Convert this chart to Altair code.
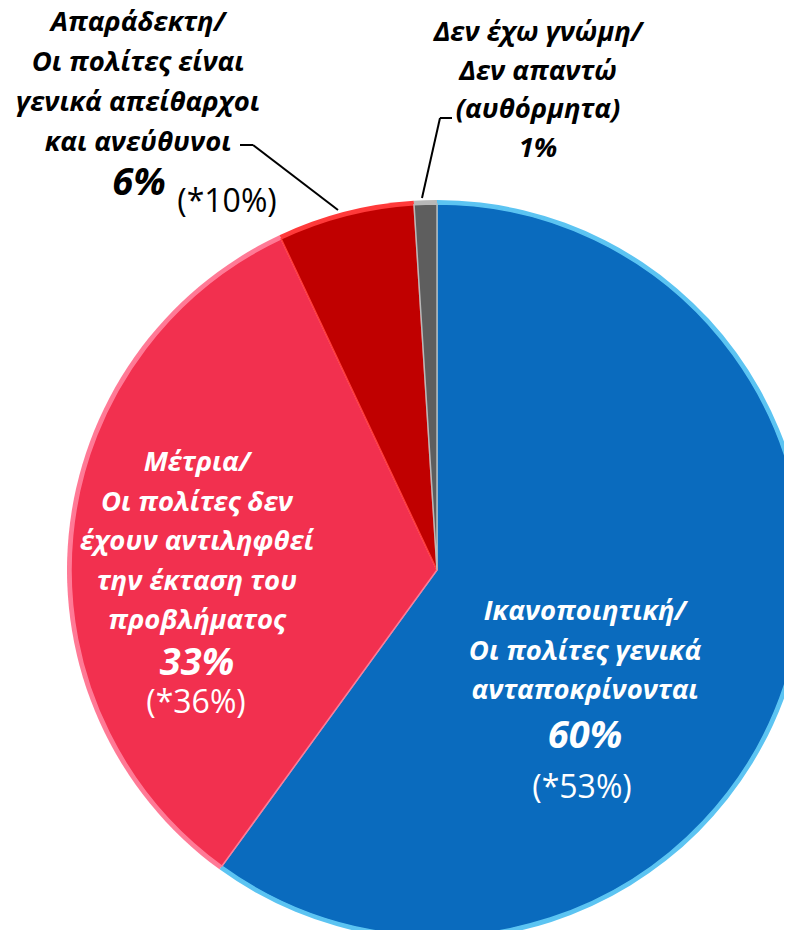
import altair as alt
import pandas as pd

# ---- data ----
categories = ["Ικανοποιητική", "Μέτρια", "Απαράδεκτη", "Δεν έχω γνώμη"]
values = [60, 33, 6, 1]
label_lines = [
    ["Ικανοποιητική/", "Οι πολίτες γενικά", "ανταποκρίνονται"],
    ["Μέτρια/", "Οι πολίτες δεν", "έχουν αντιληφθεί", "την έκταση του", "προβλήματος"],
    ["Απαράδεκτη/", "Οι πολίτες είναι", "γενικά απείθαρχοι", "και ανεύθυνοι"],
    ["Δεν έχω γνώμη/", "Δεν απαντώ", "(αυθόρμητα)", "1%"],
]
pct_labels = ["60%", "33%", "6%", ""]
prev_labels = ["(*53%)", "(*36%)", "(*10%)", ""]

fill_colors = ["#0A6BBE", "#F2304F", "#C00000", "#5E5E5E"]
rim_colors = ["#5CC4F2", "#FF7A96", "#FF3A3A", "#B8B8B8"]
text_colors = ["white", "white", "black", "black"]

FONT = "Open Sans"
W, H = 776, 922
CX, CY, R = 429, 562, 370

df = pd.DataFrame({"cat": categories, "value": values, "ord": list(range(len(values)))})

base = alt.Chart(df).encode(
    theta=alt.Theta("value:Q", stack=True),
    order=alt.Order("ord:Q"),
    x=alt.value(CX),
    y=alt.value(CY),
)

shadow = alt.Chart(pd.DataFrame({"v": [1]})).mark_arc(
    radius=R, fill="#000000", opacity=0.10
).encode(theta=alt.Theta("v:Q"), x=alt.value(CX + 2), y=alt.value(CY + 5))

rim = base.mark_arc(radius=R).encode(
    fill=alt.Fill("cat:N", scale=alt.Scale(domain=categories, range=rim_colors), legend=None)
)
body = base.mark_arc(radius=R - 4, strokeWidth=1.5).encode(
    color=alt.Color("cat:N", scale=alt.Scale(domain=categories, range=fill_colors), legend=None),
    stroke=alt.Stroke("cat:N", scale=alt.Scale(domain=categories, range=rim_colors), legend=None),
)

one = pd.DataFrame({"v": [0]})


def txt(text, x, y, size, color, weight="bold", style="italic", lh=None):
    kw = dict(text=text, font=FONT, fontSize=size, fontWeight=weight, fontStyle=style,
              color=color, align="center", baseline="middle")
    if lh:
        kw["lineHeight"] = lh
    return alt.Chart(one).mark_text(**kw).encode(x=alt.value(x), y=alt.value(y))


def rule(x1, y1, x2, y2):
    return alt.Chart(one).mark_rule(color="black", strokeWidth=2).encode(
        x=alt.value(x1), y=alt.value(y1), x2=alt.value(x2), y2=alt.value(y2)
    )


LS = 27.5  # label font size
PS = 38    # percent font size
QS = 32    # previous-wave font size
layers = [shadow, rim, body]
# blue slice label
layers += [
    txt(label_lines[0], 577, 604, LS, text_colors[0], lh=39.5),
    txt(pct_labels[0], 577, 729, PS, text_colors[0]),
    txt(prev_labels[0], 574, 780, QS, text_colors[0], weight="normal", style="normal"),
]
# red slice label
layers += [
    txt(label_lines[1], 189, 455, LS, text_colors[1], lh=39.5),
    txt(pct_labels[1], 189, 656, PS, text_colors[1]),
    txt(prev_labels[1], 188, 695, QS, text_colors[1], weight="normal", style="normal"),
]
# dark red slice label (outside)
layers += [
    txt(label_lines[2], 130, 15, LS, text_colors[2], lh=40),
    txt(pct_labels[2], 131, 176, PS, text_colors[2]),
    txt(prev_labels[2], 219, 194, QS, text_colors[2], weight="normal", style="normal"),
    rule(232, 137, 245, 137),
    rule(245, 137, 330, 202),
]
# grey slice label (outside)
layers += [
    txt(label_lines[3], 530, 25, LS, text_colors[3], lh=38.5),
    rule(444, 110, 432, 110),
    rule(432, 110, 414, 190),
]

chart = alt.layer(*layers).properties(
    width=W, height=H, autosize=alt.AutoSizeParams(type="none"), padding=0,
    background="white",
).configure_view(stroke=None)

chart.save("out.html", embed_options={"renderer": "svg", "actions": False})
